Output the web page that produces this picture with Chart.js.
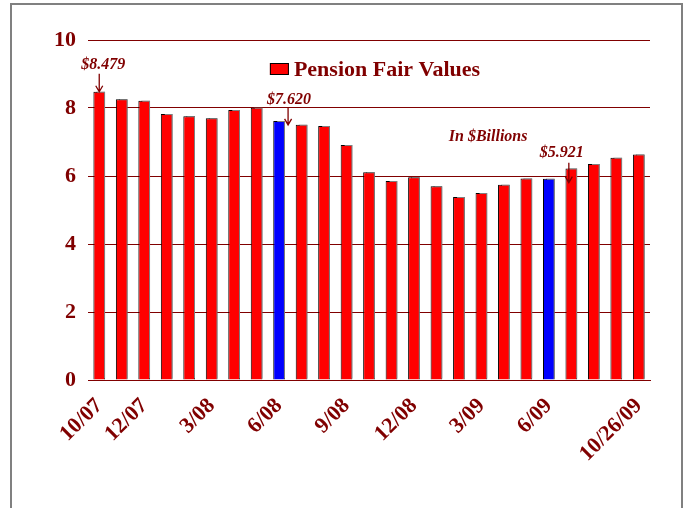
<!DOCTYPE html>
<html lang="en">
  <head>
    <meta charset="UTF-8" />
    <title>Pension Fair Values</title>
    <script src="https://cdn.jsdelivr.net/npm/chart.js"></script>
    <style>
      html, body { margin: 0; padding: 0; background: #fff; overflow: hidden; }
      #wrap { position: relative; width: 684px; height: 508px; }
      #frame {
        position: absolute; left: 10px; top: 3px; width: 673px; height: 540px;
        border: 2px solid #808080; box-sizing: border-box; pointer-events: none;
      }
    </style>
  </head>
  <body>
    <div id="wrap">
      <div id="frame"></div>
      <canvas id="pension-chart"></canvas>
    </div>
    <script>
      // month-end dates (last bar is 10/26/09)
      const months = [
        "10/07", "11/07", "12/07", "1/08", "2/08", "3/08", "4/08", "5/08",
        "6/08", "7/08", "8/08", "9/08", "10/08", "11/08", "12/08", "1/09",
        "2/09", "3/09", "4/09", "5/09", "6/09", "7/09", "8/09", "9/09", "10/26/09",
      ];
      // only these dates are written under the axis
      const shownTicks = ["10/07", "12/07", "3/08", "6/08", "9/08", "12/08", "3/09", "6/09", "10/26/09"];
      // fair values, $ billions
      const fairValues = [
        8.479, 8.26, 8.21, 7.82, 7.76, 7.70, 7.94, 8.01, 7.620, 7.51, 7.47, 6.91,
        6.11, 5.85, 5.96, 5.70, 5.38, 5.50, 5.74, 5.93, 5.921, 6.22, 6.35, 6.54, 6.63,
      ];
      // bars drawn in blue
      const highlighted = ["6/08", "6/09"];
      // callouts: which bar, its label
      const callouts = [
        { month: "10/07", value: 8.479, text: "$8.479" },
        { month: "6/08", value: 7.620, text: "$7.620" },
        { month: "6/09", value: 5.921, text: "$5.921" },
      ];
      const unitNote = "In $Billions";

      const maroon = "#800000";
      const serif = "'Liberation Serif', 'Times New Roman', serif";

      // pixel offsets for the callouts (text centre, arrow x, arrow ends)
      const calloutStyle = [
        { tx: 4, ty: -27, ax: 0, a1: -18, a2: 0 },
        { tx: 10, ty: -21, ax: 9, a1: -14, a2: 4 },
        { tx: 13, ty: -26, ax: 20, a1: -16, a2: 4 },
      ];

      const barShadow = {
        id: "barShadow",
        beforeDatasetsDraw(chart) {
          const c = chart.ctx;
          c.save();
          c.shadowColor = "#808080";
          c.shadowOffsetX = 3;
          c.shadowOffsetY = -1;
          c.shadowBlur = 0;
        },
        afterDatasetsDraw(chart) {
          chart.ctx.restore();
        },
      };

      // legend and text notes drawn inside the plot
      const calloutPlugin = {
        id: "callouts",
        afterDraw(chart) {
          const c = chart.ctx;
          const xs = chart.scales.x;
          const ys = chart.scales.y;
          const area = chart.chartArea;
          c.save();

          // legend
          const label = chart.data.datasets[0].label;
          c.font = "bold 22px " + serif;
          const tw = c.measureText(label).width;
          const lx = (area.left + area.right) / 2 + 6 - (tw + 24) / 2;
          const ly = area.top + 29;
          c.fillStyle = "#ff0000";
          c.fillRect(lx, ly - 6, 19, 12);
          c.strokeStyle = "#000";
          c.lineWidth = 1;
          c.strokeRect(lx + 0.5, ly - 5.5, 18, 11);
          c.fillStyle = maroon;
          c.textAlign = "left";
          c.textBaseline = "middle";
          c.fillText(label, lx + 24, ly + 1);

          c.strokeStyle = maroon;
          c.lineWidth = 1.3;
          c.font = "italic bold 16px " + serif;
          c.textAlign = "center";
          callouts.forEach((co, i) => {
            const st = calloutStyle[i];
            const x = xs.getPixelForValue(months.indexOf(co.month));
            const y = ys.getPixelForValue(co.value);
            c.fillText(co.text, x + st.tx, y + st.ty);
            const ax = x + st.ax;
            c.beginPath();
            c.moveTo(ax, y + st.a1);
            c.lineTo(ax, y + st.a2);
            c.moveTo(ax - 3.5, y + st.a2 - 6);
            c.lineTo(ax, y + st.a2);
            c.lineTo(ax + 3.5, y + st.a2 - 6);
            c.stroke();
          });
          // units note, placed above the 3/09 bars
          c.fillText(unitNote, xs.getPixelForValue(17.3), ys.getPixelForValue(7.15));
          c.restore();
        },
      };

      const ctx = document.getElementById("pension-chart").getContext("2d");
      new Chart(ctx, {
        type: "bar",
        data: {
          labels: months,
          datasets: [
            {
              label: "Pension Fair Values",
              data: fairValues,
              backgroundColor: (context) =>
                context.dataIndex !== undefined && highlighted.includes(months[context.dataIndex])
                  ? "#0000ff"
                  : "#ff0000",
              borderColor: "#000000",
              borderWidth: 1,
              barPercentage: 0.52,
              categoryPercentage: 1,
            },
          ],
        },
        options: {
          responsive: true,
          maintainAspectRatio: false,
          animation: false,
          layout: { padding: { left: 10, right: 34, top: 40, bottom: 0 } },
          plugins: {
            tooltip: { enabled: false },
            legend: { display: false },
          },
          scales: {
            x: {
              grid: { display: false },
              border: { color: maroon, width: 1 },
              ticks: {
                autoSkip: false,
                maxRotation: 45,
                minRotation: 45,
                padding: 5,
                color: maroon,
                font: { family: serif, size: 22, weight: "bold" },
                callback: (value, index) => (shownTicks.includes(months[index]) ? months[index] : ""),
              },
              afterFit: (scale) => { scale.height = 128; },
            },
            y: {
              min: 0,
              max: 10,
              border: { display: false },
              grid: { color: maroon, drawTicks: false, lineWidth: 1 },
              ticks: {
                stepSize: 2,
                padding: 12,
                color: maroon,
                font: { family: serif, size: 22, weight: "bold" },
              },
              afterFit: (scale) => { scale.width = 78; },
            },
          },
        },
        plugins: [barShadow, calloutPlugin],
      });
    </script>
  </body>
</html>
